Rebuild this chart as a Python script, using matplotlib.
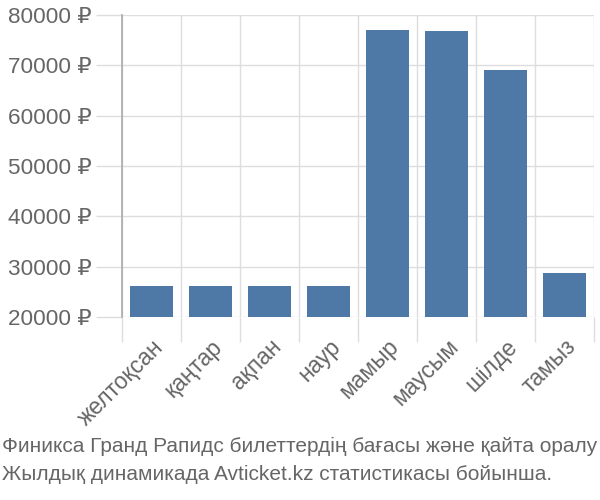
import matplotlib.pyplot as plt
import numpy as np

months = ['желтоқсан', 'қаңтар', 'ақпан', 'наур', 'мамыр', 'маусым', 'шілде', 'тамыз']
prices = [26100, 26100, 26100, 26100, 77000, 76900, 69000, 28800]
yticks = [20000, 30000, 40000, 50000, 60000, 70000, 80000]
caption = ('Финикса Гранд Рапидс билеттердің бағасы және қайта оралу\n'
           'Жылдық динамикада Avticket.kz статистикасы бойынша.')

plt.rcParams['font.family'] = ['Liberation Sans', 'DejaVu Sans']

fig = plt.figure(figsize=(6, 5), dpi=100)
ax = fig.add_axes([0.2033, 0.366, 0.7867, 0.604])

x = np.arange(len(months))
ax.bar(x, prices, width=0.72, color='#4e79a7', zorder=3)

ax.set_xlim(-0.5, len(months) - 0.5)
ax.set_ylim(yticks[0], yticks[-1])

# grid drawn as long minor ticks + gridlines
ax.set_xticks(x)
ax.set_xticklabels(months, rotation=45, ha='right', rotation_mode='anchor',
                   fontsize=16.5, color='#666666')
ax.set_xticks(np.arange(-0.5, len(months)), minor=True)
ax.tick_params(axis='x', which='major', length=0, pad=13)
ax.tick_params(axis='x', which='minor', length=18, color='#dddddd', width=1)
ax.grid(axis='x', which='minor', color='#dddddd', linewidth=1, zorder=0)

ax.set_yticks(yticks)
ax.set_yticklabels([f'{v} ₽' for v in yticks], fontsize=16.2, color='#666666')
ax.tick_params(axis='y', length=19, color='#dddddd', width=1, pad=3)
ax.grid(axis='y', color='#dddddd', linewidth=1, zorder=0)

for s in ['top', 'right', 'bottom']:
    ax.spines[s].set_visible(False)
ax.spines['left'].set_color('#aaaaaa')
ax.spines['left'].set_linewidth(1.2)

fig.text(0.003, 0.127, caption, fontsize=15, color='#666666', ha='left', va='top',
         linespacing=1.6)

fig.savefig('out.png', dpi=100)
